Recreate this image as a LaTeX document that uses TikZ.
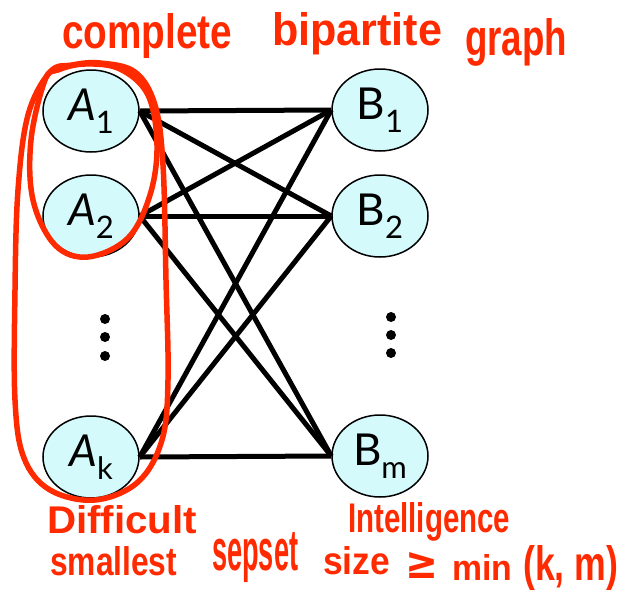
\documentclass[tikz,border=0pt]{standalone}
\usepackage{fontspec}
\usetikzlibrary{shapes.geometric}
\setmainfont{Lato}
\newfontfamily\hand{Liberation Sans}
\newfontfamily\dv{DejaVu Sans}
\definecolor{hred}{HTML}{FF2A00}
\definecolor{nodefill}{HTML}{D4FAFC}
\newcommand\hw[3]{\resizebox{#1pt}{#2pt}{\hand\bfseries #3}}
\newcommand\lbl[3]{{\fontsize{44}{44}\selectfont #1{#2}}\raisebox{-13pt}{\fontsize{31}{31}\selectfont #3}}
\begin{document}
\begin{tikzpicture}[x=1pt,y=-1pt,
  vnode/.style={ellipse, draw=black, line width=1.5pt, fill=nodefill, minimum width=96pt, minimum height=82pt, inner sep=0pt},
  edge/.style={line width=5pt, black},
  dotc/.style={fill=black, draw=none},
  loop/.style={draw=hred, line width=5.5pt, line cap=round, line join=round},
  handtxt/.style={anchor=base west, inner sep=0pt, text=hred}]
\useasboundingbox (0,0) rectangle (621,595);
% nodes
\node[vnode] (a1) at (91,111) {\lbl{\itshape}{A}{1}};
\node[vnode] (a2) at (91,216) {\lbl{\itshape}{A}{2}};
\node[vnode] (ak) at (91,457) {\lbl{\itshape}{A}{k}};
\node[vnode] (b1) at (380,110) {\lbl{}{B}{1}};
\node[vnode] (b2) at (380,216) {\lbl{}{B}{2}};
\node[vnode] (bm) at (380,456) {\lbl{}{B}{m}};
% edges
\foreach \a in {a1,a2,ak}{
  \foreach \b in {b1,b2,bm}{
    \draw[edge] (\a.east) -- (\b.west);
  }
}
% vertical dots
\foreach \yy in {319,337,356}{\fill[dotc] (105,\yy) circle (5pt);}
\foreach \yy in {317,335,353}{\fill[dotc] (391,\yy) circle (5pt);}
% red loops
\draw[loop] plot[smooth cycle, tension=0.6] coordinates {
  (45,80) (31,140) (33,200) (55,245) (88,257) (128,238) (150,195) (157,145) (148,95) (120,69) (85,64) (58,70)};
\draw[loop] plot[smooth cycle, tension=0.6] coordinates {
  (50,72) (28,115) (18,190) (15,290) (15,400) (24,458) (50,490) (95,500) (138,482) (162,440) (168,380) (166,280) (163,165) (155,105) (135,72) (100,63) (72,65)};
% handwriting annotations
\node[handtxt] (t1) at (62,48) {\hw{170}{35}{complete}};
\node[handtxt] (t2) at (272,45) {\hw{170}{33}{bipartite}};
\node[handtxt] (t3) at (465,55) {\hw{102}{37}{graph}};
\node[handtxt] (t4) at (47,533) {\hw{150}{28}{Difficult}};
\node[handtxt] (t5) at (50,575) {\hw{127}{29}{smallest}};
\node[handtxt] (t6) at (212,570) {\hw{86}{38}{sepset}};
\node[handtxt] (t7) at (348,532) {\hw{162}{30}{Intelligence}};
\node[handtxt] (t8) at (323,574) {\hw{67}{28}{size}};
\node[handtxt] (t9) at (405,578) {\resizebox{33pt}{26pt}{\dv\bfseries ≥}};
\node[handtxt] (t10) at (452,580) {\hw{60}{26}{min}};
\node[handtxt] (t11) at (523,580) {\hw{95}{35}{(k, m)}};
\end{tikzpicture}
\end{document}
